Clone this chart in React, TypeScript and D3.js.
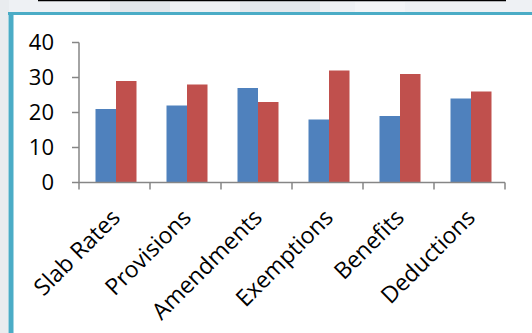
import React from "react";
import * as d3 from "d3";

// chart values
const categories = ["Slab Rates", "Provisions", "Amendments", "Exemptions", "Benefits", "Deductions"];
const seriesNames = ["Series 1", "Series 2"];
const series1 = [21, 22, 27, 18, 19, 24];
const series2 = [29, 28, 23, 32, 31, 26];
const yTicks = [0, 10, 20, 30, 40];

const W = 532;
const H = 333;
const colors = ["#4F81BD", "#C0504D"];
const axisColor = "#868686";
const font = "'Open Sans', sans-serif";

export default function App() {
  const x0 = d3.scaleBand<string>().domain(categories).range([79, 505]).padding(0);
  const x1 = d3.scaleBand<string>().domain(seriesNames).range([16.5, 57.5]).padding(0);
  const y = d3.scaleLinear().domain([0, 40]).range([182.5, 42.5]);

  const values = [series1, series2];
  const tickXs = categories.map((c) => x0(c)!).concat([x0.range()[1]]);

  return (
    <div style={{ position: "fixed", left: 0, top: 0 }}>
      <svg width={W} height={H} style={{ display: "block", background: "#fff" }}>
        {/* blurred slide background at the top / left */}
        <rect x={0} y={0} width={W} height={13} fill="#eef1f4" />
        <rect x={0} y={0} width={9} height={H} fill="#e9ecef" />
        <rect x={110} y={2} width={60} height={10} fill="#e2e6ea" />
        <rect x={240} y={2} width={80} height={10} fill="#e4e8ec" />
        <rect x={355} y={2} width={50} height={10} fill="#f3f5f7" />
        <line x1={38} x2={506} y1={0.5} y2={0.5} stroke="#000" strokeWidth={1.5} />
        {/* teal frame */}
        <rect x={8} y={12} width={W} height={H} fill="#fff" />
        <line x1={8} x2={W} y1={13.5} y2={13.5} stroke="#4BACC6" strokeWidth={3} />
        <line x1={11} x2={11} y1={12} y2={H} stroke="#4BACC6" strokeWidth={5} />

        {/* bars */}
        {categories.map((c, i) => (
          <g key={c} transform={`translate(${x0(c)},0)`}>
            {values.map((vals, s) => (
              <rect
                key={s}
                x={x1(seriesNames[s])}
                y={y(vals[i])}
                width={x1.bandwidth()}
                height={y(0) - y(vals[i])}
                fill={colors[s]}
              />
            ))}
          </g>
        ))}

        {/* y axis */}
        <line x1={79} x2={79} y1={y(40)} y2={y(0)} stroke={axisColor} strokeWidth={1.5} />
        {yTicks.map((t) => (
          <g key={t}>
            <line x1={72} x2={79} y1={y(t)} y2={y(t)} stroke={axisColor} strokeWidth={1.5} />
            <text
              x={54}
              y={y(t)}
              dy="0.36em"
              textAnchor="end"
              fontFamily={font}
              fontSize={22}
              fill="#000"
            >
              {t}
            </text>
          </g>
        ))}

        {/* x axis */}
        <line x1={79} x2={505} y1={y(0)} y2={y(0)} stroke={axisColor} strokeWidth={1.5} />
        {tickXs.map((tx, i) => (
          <line key={i} x1={tx} x2={tx} y1={y(0)} y2={y(0) + 7} stroke={axisColor} strokeWidth={1.5} />
        ))}
        {categories.map((c) => {
          const cx = x0(c)! + x0.bandwidth() / 2 + 7;
          const cy = 219;
          return (
            <text
              key={c}
              x={cx}
              y={cy}
              textAnchor="end"
              transform={`rotate(-45,${cx},${cy})`}
              fontFamily={font}
              fontSize={23}
              fill="#000"
            >
              {c}
            </text>
          );
        })}
      </svg>
    </div>
  );
}
